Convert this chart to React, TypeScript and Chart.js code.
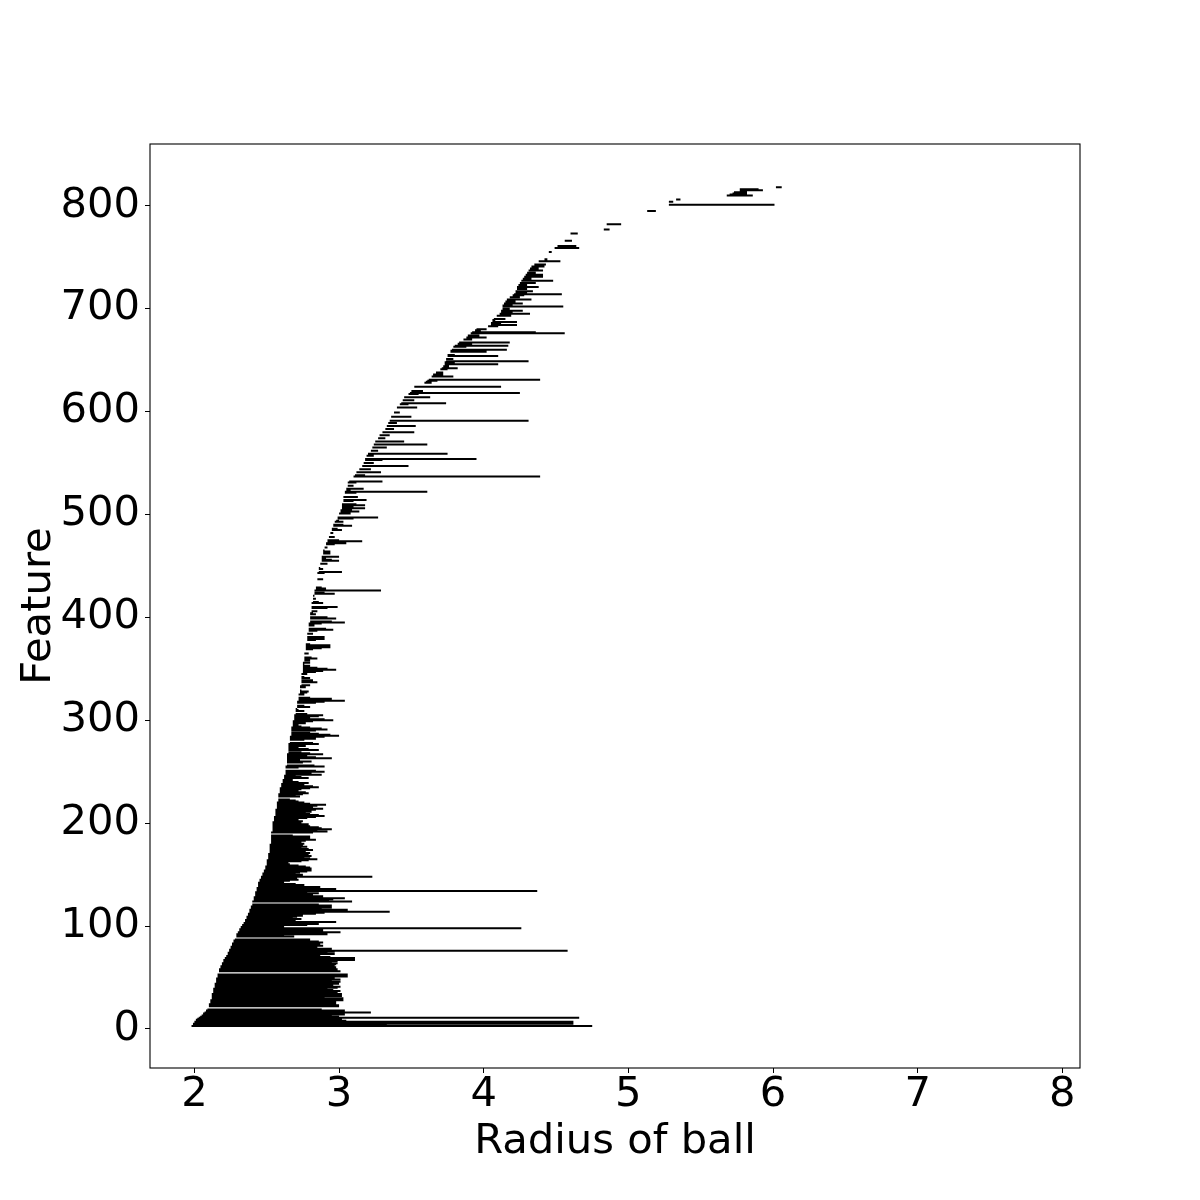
import React, { useEffect, useRef } from "react";
import { Chart, registerables } from "chart.js";

Chart.register(...registerables);

// Feature index of the first bar (features are stacked one per unit on the y axis)
const FIRST_FEATURE = 3;

// Radius at which each feature appears (left end of its bar)
const BIRTHS: number[] = [
  1.98,1.99,1.99,2.00,2.00,2.01,2.01,2.02,2.03,2.04,
  2.05,2.06,2.06,2.07,2.08,2.08,2.09,2.09,2.10,2.10,
  2.10,2.10,2.11,2.11,2.11,2.11,2.12,2.12,2.12,2.12,
  2.12,2.12,2.13,2.13,2.13,2.13,2.13,2.14,2.14,2.14,
  2.14,2.14,2.15,2.15,2.15,2.15,2.15,2.16,2.16,2.16,
  2.16,2.16,2.16,2.17,2.17,2.17,2.18,2.18,2.18,2.19,
  2.19,2.19,2.20,2.20,2.20,2.21,2.21,2.22,2.22,2.23,
  2.23,2.23,2.24,2.24,2.24,2.25,2.25,2.25,2.26,2.26,
  2.26,2.27,2.27,2.27,2.28,2.28,2.28,2.29,2.29,2.29,
  2.30,2.30,2.31,2.31,2.31,2.32,2.32,2.33,2.33,2.34,
  2.34,2.35,2.35,2.35,2.36,2.36,2.36,2.37,2.37,2.37,
  2.38,2.38,2.38,2.38,2.39,2.39,2.39,2.40,2.40,2.40,
  2.40,2.40,2.41,2.41,2.41,2.41,2.42,2.42,2.42,2.42,
  2.42,2.43,2.43,2.43,2.43,2.44,2.44,2.44,2.44,2.44,
  2.45,2.45,2.45,2.46,2.46,2.46,2.47,2.47,2.47,2.48,
  2.48,2.48,2.49,2.49,2.49,2.49,2.50,2.50,2.50,2.50,
  2.50,2.50,2.51,2.51,2.51,2.51,2.51,2.51,2.52,2.52,
  2.52,2.52,2.52,2.52,2.52,2.52,2.52,2.53,2.53,2.53,
  2.53,2.53,2.53,2.53,2.53,2.53,2.53,2.53,2.53,2.54,
  2.54,2.54,2.54,2.54,2.54,2.54,2.54,2.54,2.54,2.55,
  2.55,2.55,2.55,2.55,2.56,2.56,2.56,2.56,2.56,2.56,
  2.56,2.57,2.57,2.57,2.57,2.57,2.57,2.57,2.58,2.58,
  2.58,2.58,2.58,2.58,2.58,2.58,2.59,2.59,2.59,2.59,
  2.59,2.59,2.60,2.60,2.60,2.60,2.61,2.61,2.61,2.61,
  2.62,2.62,2.62,2.62,2.63,2.63,2.63,2.63,2.63,2.63,
  2.63,2.63,2.63,2.64,2.64,2.64,2.64,2.64,2.64,2.64,
  2.64,2.64,2.64,2.64,2.64,2.65,2.65,2.65,2.65,2.65,
  2.65,2.65,2.65,2.65,2.65,2.66,2.66,2.66,2.66,2.66,
  2.66,2.66,2.67,2.67,2.67,2.67,2.67,2.67,2.67,2.67,
  2.67,2.68,2.68,2.68,2.68,2.68,2.68,2.69,2.69,2.69,
  2.69,2.69,2.69,2.70,2.70,2.70,2.70,2.70,2.70,2.71,
  2.71,2.71,2.71,2.71,2.71,2.71,2.72,2.72,2.72,2.72,
  2.72,2.72,2.72,2.73,2.73,2.73,2.73,2.73,2.73,2.73,
  2.73,2.74,2.74,2.74,2.74,2.74,2.74,2.74,2.74,2.74,
  2.74,2.74,2.74,2.75,2.75,2.75,2.75,2.75,2.75,2.75,
  2.75,2.75,2.75,2.75,2.76,2.76,2.76,2.76,2.76,2.76,
  2.76,2.76,2.76,2.76,2.77,2.77,2.77,2.77,2.77,2.77,
  2.77,2.77,2.77,2.77,2.78,2.78,2.78,2.78,2.78,2.78,
  2.78,2.78,2.78,2.78,2.79,2.79,2.79,2.79,2.79,2.79,
  2.79,2.79,2.80,2.80,2.80,2.80,2.80,2.80,2.80,2.80,
  2.80,2.80,2.81,2.81,2.81,2.81,2.81,2.81,2.81,2.81,
  2.81,2.81,2.82,2.82,2.82,2.82,2.82,2.82,2.82,2.83,
  2.83,2.83,2.83,2.83,2.83,2.84,2.84,2.84,2.84,2.84,
  2.84,2.84,2.84,2.85,2.85,2.85,2.85,2.85,2.85,2.85,
  2.85,2.86,2.86,2.86,2.86,2.86,2.87,2.87,2.87,2.87,
  2.87,2.87,2.88,2.88,2.88,2.88,2.88,2.89,2.89,2.89,
  2.89,2.89,2.89,2.90,2.90,2.90,2.91,2.91,2.91,2.91,
  2.92,2.92,2.92,2.92,2.93,2.93,2.93,2.94,2.94,2.94,
  2.94,2.95,2.95,2.95,2.95,2.96,2.96,2.96,2.97,2.97,
  2.97,2.98,2.98,2.99,2.99,2.99,3.00,3.00,3.00,3.01,
  3.01,3.01,3.01,3.02,3.02,3.02,3.02,3.02,3.02,3.03,
  3.03,3.03,3.03,3.03,3.03,3.04,3.04,3.04,3.04,3.04,
  3.05,3.05,3.05,3.05,3.05,3.06,3.06,3.06,3.06,3.07,
  3.07,3.07,3.08,3.09,3.10,3.11,3.11,3.12,3.12,3.13,
  3.14,3.14,3.15,3.15,3.16,3.16,3.16,3.17,3.17,3.17,
  3.18,3.18,3.19,3.19,3.19,3.20,3.20,3.21,3.21,3.22,
  3.22,3.22,3.23,3.23,3.23,3.24,3.24,3.25,3.25,3.26,
  3.26,3.27,3.27,3.28,3.28,3.29,3.30,3.30,3.31,3.31,
  3.32,3.32,3.33,3.33,3.34,3.34,3.34,3.35,3.35,3.35,
  3.36,3.36,3.36,3.36,3.37,3.37,3.38,3.38,3.38,3.39,
  3.39,3.40,3.41,3.42,3.42,3.43,3.43,3.44,3.44,3.44,
  3.44,3.45,3.46,3.47,3.48,3.49,3.49,3.50,3.50,3.51,
  3.51,3.52,3.52,3.54,3.57,3.59,3.60,3.61,3.62,3.62,
  3.63,3.64,3.64,3.65,3.66,3.67,3.68,3.69,3.70,3.71,
  3.71,3.72,3.72,3.73,3.73,3.73,3.74,3.74,3.74,3.75,
  3.75,3.75,3.75,3.76,3.76,3.77,3.77,3.78,3.78,3.79,
  3.79,3.80,3.81,3.82,3.83,3.84,3.85,3.86,3.87,3.88,
  3.88,3.89,3.90,3.91,3.92,3.93,3.94,3.95,3.97,4.00,
  4.03,4.05,4.05,4.05,4.06,4.06,4.06,4.07,4.08,4.09,
  4.09,4.10,4.11,4.12,4.12,4.12,4.13,4.13,4.13,4.13,
  4.13,4.14,4.14,4.15,4.15,4.16,4.16,4.17,4.18,4.19,
  4.20,4.21,4.22,4.22,4.22,4.23,4.23,4.23,4.23,4.24,
  4.24,4.25,4.25,4.26,4.26,4.27,4.27,4.28,4.28,4.29,
  4.29,4.30,4.30,4.31,4.31,4.32,4.32,4.33,4.33,4.34,
  4.35,4.36,4.37,4.38,4.40,4.42,4.42,4.43,4.43,4.44,
  4.44,4.44,4.45,4.46,4.47,4.48,4.49,4.50,4.51,4.52,
  4.53,4.54,4.55,4.56,4.57,4.58,4.59,4.59,4.60,4.60,
  4.60,4.61,4.62,4.70,4.83,4.84,4.84,4.85,4.85,4.85,
  4.86,4.90,4.95,5.00,5.02,5.05,5.08,5.10,5.11,5.12,
  5.12,5.13,5.13,5.14,5.20,5.25,5.27,5.28,5.28,5.28,
  5.28,5.28,5.30,5.33,5.40,5.50,5.60,5.68,5.70,5.72,
  5.73,5.75,5.77,5.77,5.90,6.02,
];

// Radius at which each feature disappears (right end of its bar)
const DEATHS: number[] = [
  4.75,3.33,4.62,3.08,4.62,3.05,3.02,2.96,4.66,3.00,
  2.95,3.04,2.90,3.22,2.97,3.04,2.88,2.09,2.10,3.00,
  3.00,2.92,2.98,2.53,2.98,3.03,2.95,3.03,2.90,3.02,
  2.97,3.02,2.88,2.99,3.01,2.96,2.92,2.99,3.01,2.94,
  2.96,3.00,2.90,3.01,2.95,3.01,2.97,2.93,3.06,2.98,
  3.06,2.16,2.16,3.01,2.96,2.99,2.94,2.98,2.97,2.92,
  2.98,2.99,2.95,2.99,3.11,3.02,3.11,2.94,2.87,2.86,
  2.97,2.92,2.97,4.58,2.90,2.95,2.85,2.80,2.89,2.87,
  2.84,2.89,2.86,2.75,2.80,2.28,2.28,2.69,2.62,2.92,
  2.72,3.01,2.84,2.89,2.80,4.26,2.62,2.50,2.78,2.86,
  2.82,2.98,2.70,2.66,2.74,2.68,2.71,2.75,2.70,2.84,
  2.90,3.35,2.93,3.06,2.88,2.95,2.91,2.95,2.86,2.40,
  2.40,3.09,2.93,2.96,3.04,2.85,2.89,2.82,2.80,2.86,
  2.78,4.37,2.91,2.98,2.84,2.87,2.74,2.76,2.70,2.62,
  2.50,2.66,2.72,2.68,2.71,3.23,2.62,2.75,2.70,2.73,
  2.78,2.81,2.79,2.81,2.80,2.77,2.72,2.66,2.60,2.65,
  2.74,2.79,2.85,2.80,2.76,2.81,2.79,2.73,2.80,2.77,
  2.70,2.82,2.79,2.74,2.78,2.75,2.72,2.76,2.74,2.70,
  2.77,2.84,2.80,2.74,2.80,2.68,2.53,2.53,2.82,2.92,
  2.85,2.95,2.88,2.86,2.80,2.77,2.79,2.74,2.70,2.75,
  2.72,2.69,2.78,2.84,2.90,2.86,2.80,2.77,2.81,2.73,
  2.84,2.89,2.82,2.78,2.85,2.91,2.80,2.76,2.72,2.70,
  2.66,2.58,2.58,2.73,2.70,2.75,2.79,2.77,2.72,2.68,
  2.74,2.80,2.86,2.82,2.76,2.70,2.79,2.72,2.64,2.68,
  2.66,2.79,2.74,2.70,2.88,2.81,2.76,2.90,2.84,2.63,
  2.63,2.72,2.90,2.83,2.64,2.64,2.75,2.81,2.69,2.73,
  2.95,2.84,2.78,2.64,2.89,2.80,2.74,2.65,2.86,2.79,
  2.72,2.65,2.77,2.70,2.86,2.82,2.66,2.66,2.76,2.84,
  2.78,2.90,3.00,2.94,2.86,2.80,2.67,2.84,2.92,2.88,
  2.80,2.74,2.68,2.72,2.77,2.70,2.82,2.96,2.90,2.69,
  2.80,2.86,2.89,2.78,2.70,2.70,2.76,2.72,2.71,2.71,
  2.80,2.76,2.71,2.71,2.84,2.90,3.04,2.88,2.95,2.80,
  2.72,2.72,2.76,2.73,2.78,2.79,2.74,2.73,2.73,2.77,
  2.77,2.80,2.74,2.74,2.85,2.79,2.82,2.74,2.80,2.76,
  2.74,2.74,2.78,2.75,2.84,2.89,2.98,2.92,2.85,2.79,
  2.80,2.76,2.75,2.80,2.76,2.80,2.76,2.85,2.81,2.76,
  2.76,2.76,2.79,2.76,2.77,2.77,2.82,2.88,2.94,2.86,
  2.94,2.80,2.77,2.77,2.78,2.84,2.90,2.86,2.90,2.78,
  2.78,2.82,2.78,2.78,2.85,2.96,2.91,2.79,2.79,2.83,
  2.79,2.88,3.04,2.95,2.80,2.80,2.98,2.92,2.80,2.80,
  2.84,2.82,2.81,2.85,2.81,2.81,2.92,2.99,2.81,2.81,
  2.81,2.89,2.86,2.82,2.82,2.84,2.82,2.82,2.83,2.83,
  2.97,2.90,2.83,3.29,2.83,2.91,2.88,2.84,2.84,2.84,
  2.84,2.84,2.84,2.85,2.89,2.85,2.85,2.85,2.85,2.85,
  2.90,3.02,2.86,2.86,2.89,2.87,2.87,2.87,2.87,2.92,
  2.87,2.87,3.00,2.95,2.88,2.91,3.00,2.89,2.89,2.94,
  2.89,2.94,2.90,2.90,2.90,2.92,2.91,2.91,2.97,3.05,
  2.98,3.16,3.00,2.92,2.93,2.97,2.93,2.94,2.94,2.96,
  2.94,2.95,3.02,2.99,2.95,2.96,3.09,3.03,2.97,2.97,
  3.03,3.00,2.98,3.10,3.27,2.99,3.00,3.00,3.08,3.01,
  3.14,3.09,3.01,3.18,3.10,3.02,3.18,3.12,3.02,3.03,
  3.10,3.19,3.03,3.03,3.13,3.04,3.04,3.04,3.12,3.61,
  3.05,3.08,3.17,3.05,3.05,3.10,3.06,3.06,3.12,3.30,
  3.07,3.07,3.08,3.09,4.39,3.18,3.11,3.12,3.29,3.13,
  3.14,3.22,3.15,3.15,3.48,3.16,3.16,3.24,3.17,3.17,
  3.30,3.95,3.19,3.19,3.24,3.20,3.75,3.21,3.21,3.27,
  3.22,3.22,3.33,3.23,3.23,3.61,3.24,3.25,3.45,3.26,
  3.26,3.32,3.27,3.28,3.35,3.29,3.30,3.52,3.31,3.31,
  3.38,3.32,3.33,3.53,3.34,3.34,3.40,3.35,4.31,3.35,
  3.36,3.36,3.50,3.36,3.37,3.37,3.42,3.38,3.38,3.39,
  3.39,3.54,3.41,3.42,3.48,3.74,3.43,3.44,3.52,3.44,
  3.44,3.63,3.46,3.47,3.55,4.25,3.49,3.58,3.50,3.51,
  3.51,4.12,3.52,3.54,3.57,3.64,3.64,3.68,4.39,3.62,
  3.63,3.79,3.64,3.72,3.66,3.72,3.68,3.69,3.75,3.82,
  3.71,3.76,3.72,4.10,3.73,3.80,4.31,3.74,3.79,3.75,
  3.75,4.10,3.80,3.76,3.76,4.02,3.85,4.16,3.78,3.79,
  3.88,4.17,3.81,3.92,4.18,3.84,3.85,3.92,3.87,4.02,
  3.88,3.97,3.90,4.56,4.36,3.93,3.98,4.02,3.97,4.00,
  4.10,4.23,4.05,4.12,4.23,4.06,4.08,4.15,4.08,4.09,
  4.19,4.10,4.32,4.12,4.20,4.27,4.13,4.18,4.13,4.55,
  4.20,4.14,4.27,4.15,4.22,4.16,4.33,4.17,4.25,4.19,
  4.28,4.54,4.22,4.30,4.34,4.23,4.30,4.23,4.38,4.24,
  4.30,4.25,4.36,4.26,4.48,4.27,4.33,4.28,4.41,4.29,
  4.41,4.30,4.36,4.31,4.41,4.32,4.38,4.33,4.42,4.34,
  4.43,4.36,4.37,4.53,4.40,4.44,4.42,4.43,4.43,4.44,
  4.44,4.44,4.47,4.46,4.47,4.48,4.66,4.50,4.64,4.52,
  4.53,4.54,4.55,4.61,4.57,4.58,4.59,4.59,4.60,4.60,
  4.65,4.61,4.62,4.70,4.87,4.84,4.84,4.85,4.85,4.95,
  4.86,4.90,4.95,5.00,5.02,5.05,5.08,5.10,5.11,5.12,
  5.12,5.13,5.19,5.14,5.20,5.25,5.27,5.28,6.01,5.28,
  5.28,5.31,5.30,5.36,5.40,5.50,5.60,5.86,5.80,5.82,
  5.82,5.75,5.93,5.90,5.90,6.06,
];

const X_TICKS = [2, 3, 4, 5, 6, 7, 8];
const Y_TICKS = [0, 100, 200, 300, 400, 500, 600, 700, 800];
const X_MIN = 1.693;
const X_MAX = 8.122;
const Y_MIN = -37.9;
const Y_MAX = 860.0;
const X_TITLE = "Radius of ball";
const Y_TITLE = "Feature";

const FONT = { family: "'DejaVu Sans', sans-serif", size: 41.7 };

const framePlugin = {
  id: "frame",
  afterDraw(chart: any) {
    const { ctx, chartArea: a } = chart;
    ctx.save();
    ctx.strokeStyle = "#000";
    ctx.lineWidth = 1.1;
    ctx.strokeRect(a.left, a.top, a.right - a.left, a.bottom - a.top);
    ctx.restore();
  },
};

export default function App() {
  const canvasRef = useRef<HTMLCanvasElement | null>(null);

  useEffect(() => {
    document.body.style.margin = "0";
    const canvas = canvasRef.current;
    if (!canvas) return;

    const points: { x: number; y: number | null }[] = [];
    BIRTHS.forEach((b, i) => {
      const d = DEATHS[i];
      const y = FIRST_FEATURE + i;
      if (d > b) {
        points.push({ x: b, y }, { x: d, y }, { x: d, y: null });
      }
    });

    const chart = new Chart(canvas, {
      type: "scatter",
      data: {
        datasets: [
          {
            data: points as any,
            showLine: true,
            spanGaps: false,
            borderColor: "#000",
            backgroundColor: "#000",
            borderWidth: 2,
            borderCapStyle: "butt",
            pointRadius: 0,
            pointHoverRadius: 0,
            pointHitRadius: 0,
            tension: 0,
          } as any,
        ],
      },
      options: {
        responsive: false,
        animation: false,
        events: [],
        layout: { padding: { left: 0, top: 144, right: 120, bottom: 0 } },
        plugins: {
          legend: { display: false },
          tooltip: { enabled: false },
        },
        scales: {
          x: {
            type: "linear",
            min: X_MIN,
            max: X_MAX,
            afterBuildTicks: (s: any) => {
              s.ticks = X_TICKS.map((v) => ({ value: v }));
            },
            afterFit: (s: any) => {
              s.height = 132;
            },
            ticks: { font: FONT, color: "#000", padding: -3, maxRotation: 0, autoSkip: false },
            grid: { display: true, drawOnChartArea: false, drawTicks: true, tickLength: 5, color: "#000", lineWidth: 1 },
            border: { display: false },
            title: { display: true, text: X_TITLE, font: FONT, color: "#000", padding: { top: 0, bottom: 33 } },
          },
          y: {
            type: "linear",
            min: Y_MIN,
            max: Y_MAX,
            afterBuildTicks: (s: any) => {
              s.ticks = Y_TICKS.map((v) => ({ value: v }));
            },
            afterFit: (s: any) => {
              s.width = 150;
            },
            ticks: { font: FONT, color: "#000", padding: 5, autoSkip: false },
            grid: { display: true, drawOnChartArea: false, drawTicks: true, tickLength: 5, color: "#000", lineWidth: 1 },
            border: { display: false },
            title: { display: true, text: Y_TITLE, font: FONT, color: "#000", padding: { top: 14, bottom: 0 } },
          },
        },
      } as any,
      plugins: [framePlugin],
    });

    return () => chart.destroy();
  }, []);

  return <canvas ref={canvasRef} width={1200} height={1200} style={{ display: "block" }} />;
}
